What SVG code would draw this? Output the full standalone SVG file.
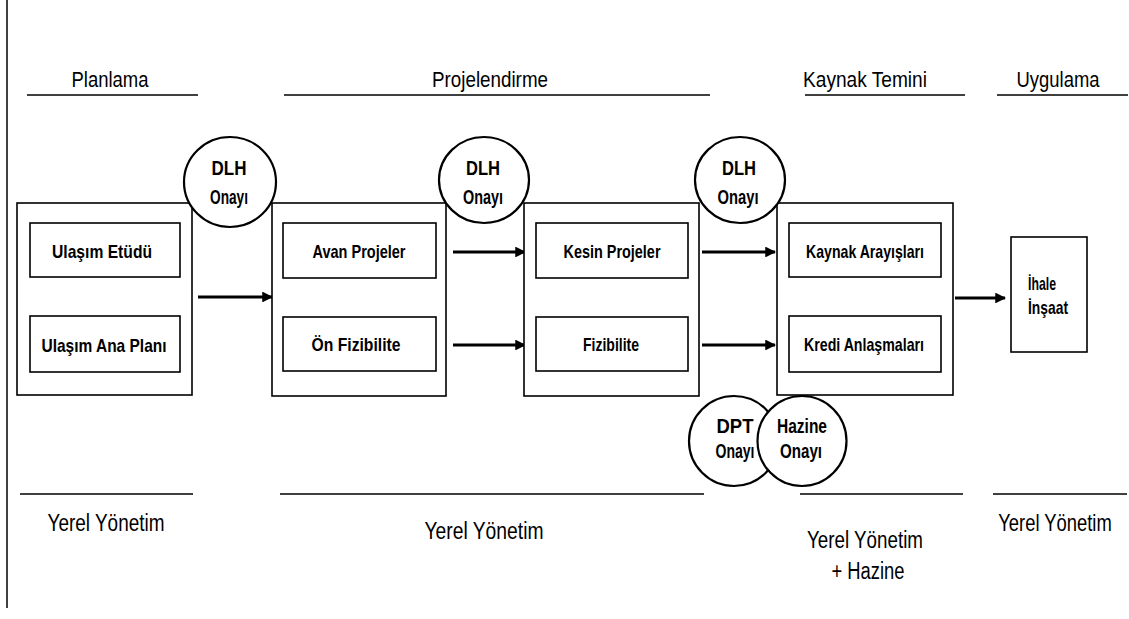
<svg xmlns="http://www.w3.org/2000/svg" width="1129" height="619" viewBox="0 0 1129 619">
  <defs>
    <marker id="arrow" viewBox="0 0 10 10" refX="9" refY="5" markerWidth="3.6" markerHeight="3.6" orient="auto" markerUnits="strokeWidth">
      <path d="M0,0 L10,5 L0,10 z" fill="#000"/>
    </marker>
    <style>
      text { font-family: "Liberation Sans", Arial, sans-serif; fill: #000; text-anchor: middle; }
      .head { font-size: 22px; }
      .foot { font-size: 23px; }
      .item { font-size: 19px; font-weight: bold; }
      .big { font-size: 21px; font-weight: bold; }
      .small { font-size: 20px; font-weight: bold; }
      .frame { fill: #fff; stroke: #000; stroke-width: 1.6; }
      .inner { fill: #fff; stroke: #000; stroke-width: 1.6; }
      .seal { fill: #fff; stroke: #000; stroke-width: 2.2; }
      .rule { stroke: #000; stroke-width: 1.5; }
      .flow { stroke: #000; stroke-width: 3; fill: none; marker-end: url(#arrow); }
    </style>
  </defs>
  <rect width="1129" height="619" fill="#fff"/>
  <line x1="7" y1="0" x2="7" y2="608" class="rule"/>

  <!-- phase headings -->
  <g id="headings">
    <text x="110" y="87" class="head" textLength="77" lengthAdjust="spacingAndGlyphs">Planlama</text>
    <line x1="27" y1="95" x2="198" y2="95" class="rule"/>
    <text x="490" y="87" class="head" textLength="116" lengthAdjust="spacingAndGlyphs">Projelendirme</text>
    <line x1="284" y1="95" x2="710" y2="95" class="rule"/>
    <text x="865" y="87" class="head" textLength="124" lengthAdjust="spacingAndGlyphs">Kaynak Temini</text>
    <line x1="805" y1="95" x2="965" y2="95" class="rule"/>
    <text x="1058" y="87" class="head" textLength="83" lengthAdjust="spacingAndGlyphs">Uygulama</text>
    <line x1="997" y1="95" x2="1128" y2="95" class="rule"/>
  </g>

  <!-- responsible parties -->
  <g id="footers">
    <line x1="20" y1="494" x2="193" y2="494" class="rule"/>
    <text x="106" y="531" class="foot" textLength="117" lengthAdjust="spacingAndGlyphs">Yerel Yönetim</text>
    <line x1="280" y1="494" x2="704" y2="494" class="rule"/>
    <text x="484" y="539" class="foot" textLength="119" lengthAdjust="spacingAndGlyphs">Yerel Yönetim</text>
    <line x1="800" y1="494" x2="963" y2="494" class="rule"/>
    <text x="865" y="548" class="foot" textLength="116" lengthAdjust="spacingAndGlyphs">Yerel Yönetim</text>
    <text x="868" y="579" class="foot" textLength="73" lengthAdjust="spacingAndGlyphs">+ Hazine</text>
    <line x1="993" y1="494" x2="1127" y2="494" class="rule"/>
    <!-- last column: condensed by a horizontal scale so its box stays inside the page -->
    <text transform="translate(1055,531) scale(0.8,1)" class="foot">Yerel Yönetim</text>
  </g>

  <!-- connectors -->
  <g id="connectors">
    <line x1="198" y1="297" x2="272" y2="297" class="flow"/>
    <line x1="453" y1="252" x2="525" y2="252" class="flow"/>
    <line x1="453" y1="345" x2="525" y2="345" class="flow"/>
    <line x1="702" y1="252" x2="775" y2="252" class="flow"/>
    <line x1="702" y1="345" x2="775" y2="345" class="flow"/>
    <line x1="955" y1="298" x2="1005" y2="298" class="flow"/>
  </g>

  <g id="planlama">
    <rect x="17" y="203" width="175" height="192" class="frame"/>
    <rect x="30" y="223" width="150" height="54" class="inner"/>
    <text x="102" y="258" class="item" textLength="100" lengthAdjust="spacingAndGlyphs">Ulaşım Etüdü</text>
    <rect x="30" y="316" width="150" height="56" class="inner"/>
    <text x="104" y="352" class="item" textLength="125" lengthAdjust="spacingAndGlyphs">Ulaşım Ana Planı</text>
  </g>

  <g id="projelendirme-on">
    <rect x="272" y="203" width="174" height="193" class="frame"/>
    <rect x="283" y="223" width="153" height="55" class="inner"/>
    <text x="359" y="258" class="item" textLength="93" lengthAdjust="spacingAndGlyphs">Avan Projeler</text>
    <rect x="283" y="317" width="153" height="54" class="inner"/>
    <text x="356" y="351" class="item" textLength="89" lengthAdjust="spacingAndGlyphs">Ön Fizibilite</text>
  </g>

  <g id="projelendirme-kesin">
    <rect x="524" y="203" width="175" height="193" class="frame"/>
    <rect x="536" y="223" width="152" height="55" class="inner"/>
    <text x="612" y="258" class="item" textLength="97" lengthAdjust="spacingAndGlyphs">Kesin Projeler</text>
    <rect x="536" y="317" width="152" height="54" class="inner"/>
    <text x="611" y="351" class="item" textLength="56" lengthAdjust="spacingAndGlyphs">Fizibilite</text>
  </g>

  <g id="kaynak">
    <rect x="777" y="203" width="176" height="192" class="frame"/>
    <rect x="789" y="223" width="152" height="54" class="inner"/>
    <text x="865" y="258" class="item" textLength="118" lengthAdjust="spacingAndGlyphs">Kaynak Arayışları</text>
    <rect x="789" y="316" width="152" height="56" class="inner"/>
    <text x="864" y="351" class="item" textLength="120" lengthAdjust="spacingAndGlyphs">Kredi Anlaşmaları</text>
  </g>

  <g id="uygulama">
    <rect x="1011" y="237" width="76" height="115" class="frame"/>
    <text x="1042" y="290" class="item" textLength="28" lengthAdjust="spacingAndGlyphs">İhale</text>
    <text x="1048" y="314" class="item" textLength="40" lengthAdjust="spacingAndGlyphs">İnşaat</text>
  </g>

  <g id="dlh-onay-1">
    <ellipse cx="230" cy="182" rx="46" ry="45" class="seal"/>
    <text x="229" y="175" class="big" textLength="35" lengthAdjust="spacingAndGlyphs">DLH</text>
    <text x="229" y="204" class="small" textLength="38" lengthAdjust="spacingAndGlyphs">Onayı</text>
  </g>
  <g id="dlh-onay-2">
    <ellipse cx="484" cy="180" rx="45" ry="43" class="seal"/>
    <text x="483" y="175" class="big" textLength="34" lengthAdjust="spacingAndGlyphs">DLH</text>
    <text x="483" y="204" class="small" textLength="40" lengthAdjust="spacingAndGlyphs">Onayı</text>
  </g>
  <g id="dlh-onay-3">
    <ellipse cx="740" cy="180" rx="45" ry="43" class="seal"/>
    <text x="739" y="175" class="big" textLength="34" lengthAdjust="spacingAndGlyphs">DLH</text>
    <text x="738" y="204" class="small" textLength="41" lengthAdjust="spacingAndGlyphs">Onayı</text>
  </g>

  <g id="dpt-onay">
    <ellipse cx="734" cy="441" rx="45" ry="45" class="seal"/>
    <text x="735" y="433" class="big" textLength="37" lengthAdjust="spacingAndGlyphs">DPT</text>
    <text x="735" y="458" class="small" textLength="39" lengthAdjust="spacingAndGlyphs">Onayı</text>
  </g>
  <g id="hazine-onay">
    <ellipse cx="802" cy="441" rx="44.5" ry="45" class="seal"/>
    <text x="802" y="433" class="big" textLength="50" lengthAdjust="spacingAndGlyphs">Hazine</text>
    <text x="801" y="458" class="small" textLength="42" lengthAdjust="spacingAndGlyphs">Onayı</text>
  </g>
</svg>
